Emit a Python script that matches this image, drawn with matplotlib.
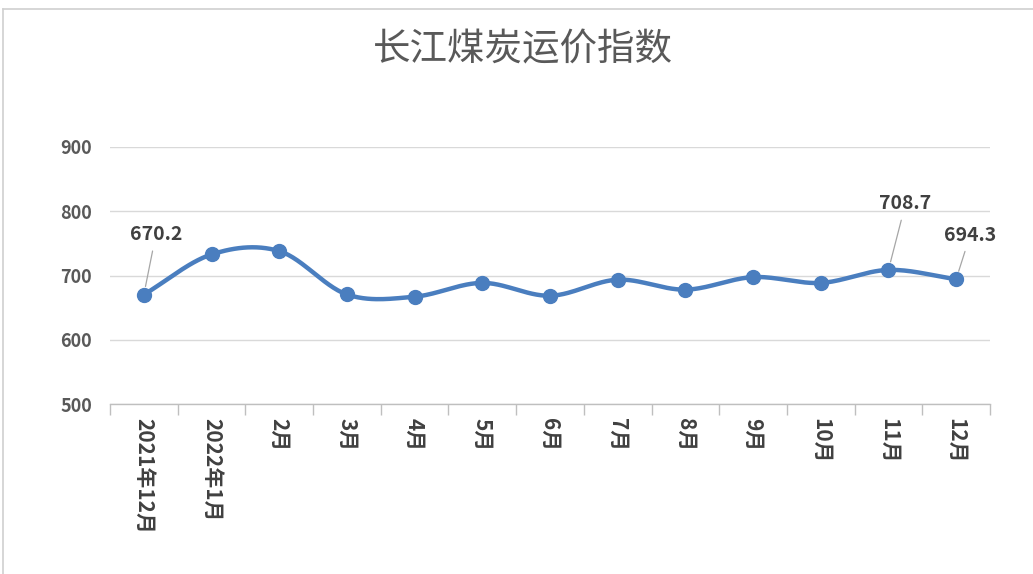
import numpy as np
import matplotlib
matplotlib.use("Agg")
import matplotlib.pyplot as plt
from matplotlib.lines import Line2D

plt.rcParams['font.family'] = ['Noto Sans CJK SC', 'DejaVu Sans']

categories = ["2021年12月", "2022年1月", "2月", "3月", "4月", "5月", "6月",
              "7月", "8月", "9月", "10月", "11月", "12月"]
values = [670.2, 732.8, 738.0, 670.5, 667.0, 688.5, 668.5,
          693.5, 678.0, 697.5, 688.5, 708.7, 694.3]
labeled = {0: "670.2", 11: "708.7", 12: "694.3"}
yticks = [500, 600, 700, 800, 900]

W, H = 1033, 574
fig = plt.figure(figsize=(W / 100, H / 100), dpi=100)
fig.lines.append(Line2D([3 / W, 3 / W], [0, 1 - 9 / H], transform=fig.transFigure,
                        color='#d0d0d0', linewidth=1.2))
fig.lines.append(Line2D([3 / W, 1], [1 - 9 / H, 1 - 9 / H], transform=fig.transFigure,
                        color='#d0d0d0', linewidth=1.2))

ax = fig.add_axes([110 / W, 1 - 404 / H, 880 / W, 257 / H])

x = np.arange(len(values))
y = np.array(values)

# Catmull-Rom smoothing (display only), similar to Excel's smoothed line
def smooth(xs, ys, n=30):
    px = np.concatenate([[2 * xs[0] - xs[1]], xs, [2 * xs[-1] - xs[-2]]])
    py = np.concatenate([[2 * ys[0] - ys[1]], ys, [2 * ys[-1] - ys[-2]]])
    ox, oy = [], []
    t = np.linspace(0, 1, n, endpoint=False)
    for i in range(1, len(px) - 2):
        for P, out in ((px, ox), (py, oy)):
            p0, p1, p2, p3 = P[i - 1], P[i], P[i + 1], P[i + 2]
            out.extend(0.5 * ((2 * p1) + (-p0 + p2) * t +
                              (2 * p0 - 5 * p1 + 4 * p2 - p3) * t ** 2 +
                              (-p0 + 3 * p1 - 3 * p2 + p3) * t ** 3))
    ox.append(xs[-1]); oy.append(ys[-1])
    return np.array(ox), np.array(oy)

sx, sy = smooth(x.astype(float), y)
color = '#4A7EBF'
ax.plot(sx, sy, color=color, linewidth=3.2, solid_capstyle='round', zorder=3)
ax.plot(x, y, 'o', color=color, markersize=10, zorder=4)

ax.set_xlim(-0.5, len(values) - 0.5)
ax.set_ylim(500, 900)
ax.set_yticks(yticks)
ax.set_yticklabels([str(v) for v in yticks])
ax.yaxis.grid(True, color='#d9d9d9', linewidth=1)
ax.set_axisbelow(True)
for s in ['top', 'right', 'left']:
    ax.spines[s].set_visible(False)
ax.spines['bottom'].set_color('#bfbfbf')
ax.spines['bottom'].set_linewidth(1)
ax.tick_params(axis='y', length=0, pad=13, labelsize=13, labelcolor='#595959')
for lab in ax.get_yticklabels():
    lab.set_fontweight('bold')

ax.set_xticks(x)
ax.set_xticklabels(categories, rotation=-90, fontsize=15, color='#404040',
                   fontweight='bold', va='top', ha='center')
ax.tick_params(axis='x', length=0, pad=10)
ax.set_xticks(np.arange(-0.5, len(values)), minor=True)
ax.tick_params(axis='x', which='minor', length=8, color='#bfbfbf', width=1)

offsets = {0: (12, 60), 11: (17, 66), 12: (14, 44)}
for i, txt in labeled.items():
    dx, dy = offsets[i]
    ax.annotate(txt, xy=(x[i], y[i]), xytext=(dx, dy), textcoords='offset pixels',
                ha='center', va='center', fontsize=14, fontweight='bold', color='#404040',
                arrowprops=dict(arrowstyle='-', color='#a6a6a6', linewidth=0.9,
                                shrinkA=3, shrinkB=6))

fig.text(523 / W, 1 - 50 / H, "长江煤炭运价指数", ha='center', va='center',
         fontsize=27, color='#595959')

fig.savefig('out.png', dpi=100)
